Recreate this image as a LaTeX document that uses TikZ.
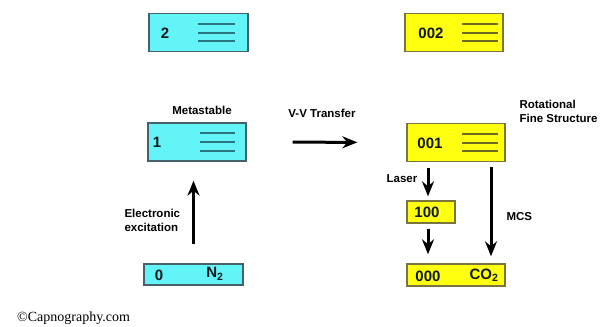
\documentclass[tikz,border=0pt]{standalone}
\usepackage{fontspec}
\setmainfont{Liberation Sans}
\newfontfamily\serifcopy{Liberation Serif}
\usetikzlibrary{arrows.meta}

\definecolor{n2fill}{HTML}{62F4F6}
\definecolor{n2edge}{HTML}{46606C}
\definecolor{n2line}{HTML}{2C7480}
\definecolor{cofill}{HTML}{FFFF10}
\definecolor{coedge}{HTML}{7A7440}
\definecolor{coline}{HTML}{6E6A22}
\definecolor{ink}{HTML}{101820}

\tikzset{
  level/.style={draw, line width=1.4pt, minimum height=38pt, inner sep=0pt},
  n2level/.style={level, fill=n2fill, draw=n2edge},
  colevel/.style={level, fill=cofill, draw=coedge},
  num/.style={font=\bfseries\fontsize{15}{15}\selectfont, text=ink, anchor=center},
  lbl/.style={font=\bfseries\fontsize{11.5}{14}\selectfont, text=black, align=left},
  arr/.style={line width=3pt, -{Stealth[length=15pt,width=12pt,inset=5pt]}},
}

% three rotational sub-levels drawn inside a level box
\newcommand\finelines[4]{%
  \foreach \dy in {-9,0,8.5}
    \draw[#4, line width=2pt] ([xshift=#2pt,yshift=-\dy pt]#1.center) -- ([xshift=#3pt,yshift=-\dy pt]#1.center);}

\begin{document}
\begin{tikzpicture}[x=1pt,y=-1pt]
\useasboundingbox (0,0) rectangle (606,327);

% N2 levels
\node[n2level, minimum width=99pt] (b2) at (198.5,32.5) {};
\node[n2level, minimum width=98pt] (b1) at (197,142) {};
\node[n2level, minimum width=99pt, minimum height=21pt] (b0) at (193.5,274.5) {};

% CO2 levels
\node[colevel, minimum width=98pt] (c002) at (454,32.5) {};
\node[colevel, minimum width=98pt] (c001) at (456,142.5) {};
\node[colevel, minimum width=48pt, minimum height=22pt] (c100) at (431,212) {};
\node[colevel, minimum width=98pt, minimum height=22pt] (c000) at (456,275) {};

% level numbers and molecules
\node[num] at (165,33) {2};
\node[num] at (157,142) {1};
\node[num] at (159,275) {0};
\node[num] at (215,274) {N\textsubscript{2}};
\node[num] at (431,33) {002};
\node[num] at (430,143) {001};
\node[num] at (427,212) {100};
\node[num] at (428,276) {000};
\node[num] at (484,275) {CO\textsubscript{2}};

\finelines{b2}{-0.5}{36.5}{n2line}
\finelines{b1}{3}{38}{n2line}
\finelines{c002}{8}{44}{coline}
\finelines{c001}{6}{42}{coline}

% transitions
\draw[arr, shorten <=19pt, shorten >=19pt] (b0.north) -- (b0.north |- b1.south);
\draw[arr, shorten <=46pt, shorten >=49pt] (b1.east) -- (c001.west);
\draw[arr, shorten <=6pt, shorten >=4pt] ([xshift=-3pt]c100.north |- c001.south) -- ([xshift=-3pt]c100.north);
\draw[arr, shorten <=5pt, shorten >=9pt] ([xshift=-3pt]c100.south) -- ([xshift=-3pt]c100.south |- c000.north);
\draw[arr, shorten <=5pt, shorten >=7pt] ([xshift=35pt]c001.south) -- ([xshift=35pt]c001.south |- c000.north);

% labels
\node[lbl] (meta) at (202,110) {Metastable};
\node[lbl] (vv) at (322,113) {V-V Transfer};
\node[lbl, anchor=west] (rot) at (516,111.5) {Rotational\\Fine Structure};
\node[lbl, anchor=west] (exc) at (121,220) {Electronic\\excitation};
\node[lbl] (laser) at (402,179) {Laser};
\node[lbl, anchor=west] (mcs) at (503,217) {MCS};
\node[anchor=west, inner sep=0pt, font=\serifcopy\fontsize{14}{14}\selectfont] (copy) at (17,318) {\textcopyright Capnography.com};
\end{tikzpicture}
\end{document}
